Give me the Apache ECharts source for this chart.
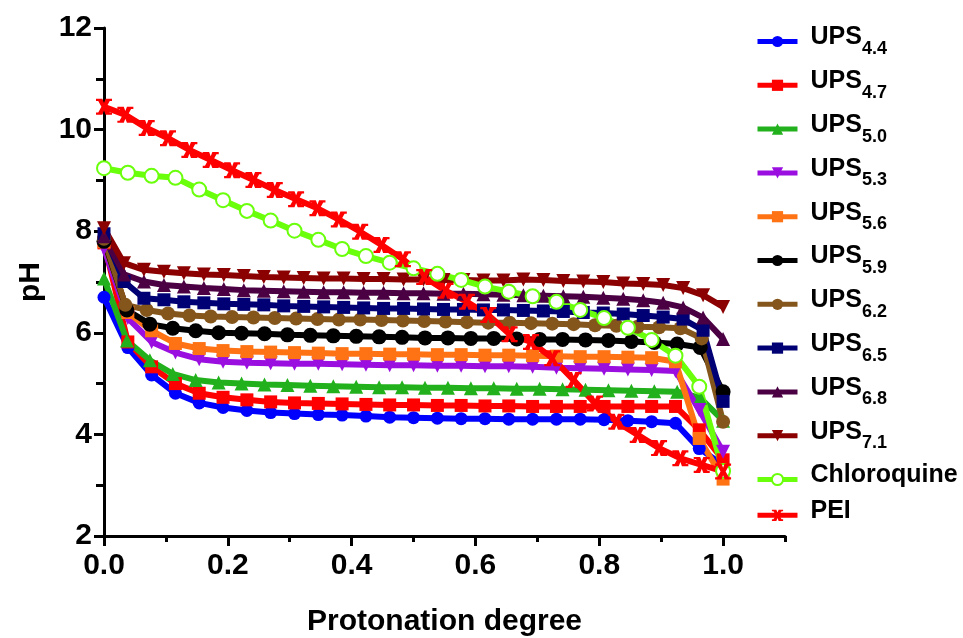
<!DOCTYPE html>
<html>
<head>
<meta charset="utf-8">
<script src="https://cdn.jsdelivr.net/npm/echarts@6/dist/echarts.min.js"></script>
<style>
  html, body { margin: 0; padding: 0; background: #fff; }
  #chart { width: 963px; height: 638px; }
</style>
</head>
<body>
<div id="chart"></div>
<script>
// x grids (protonation degree) - series were sampled at different steps
var x26 = [0, 0.0385, 0.0769, 0.1154, 0.1538, 0.1923, 0.2308, 0.2692, 0.3077, 0.3462, 0.3846, 0.4231, 0.4615, 0.5,
    0.5385, 0.5769, 0.6154, 0.6538, 0.6923, 0.7308, 0.7692, 0.8077, 0.8462, 0.8846, 0.9231, 0.9615, 1.0];
var x27 = [0, 0.037, 0.0741, 0.1111, 0.1481, 0.1852, 0.2222, 0.2593, 0.2963, 0.3333, 0.3704, 0.4074, 0.4444, 0.4815,
    0.5185, 0.5556, 0.5926, 0.6296, 0.6667, 0.7037, 0.7407, 0.7778, 0.8148, 0.8519, 0.8889, 0.9259, 0.963, 1.0];
var x29 = [0, 0.0345, 0.069, 0.1034, 0.1379, 0.1724, 0.2069, 0.2414, 0.2759, 0.3103, 0.3448, 0.3793, 0.4138, 0.4483,
    0.4828, 0.5172, 0.5517, 0.5862, 0.6207, 0.6552, 0.6897, 0.7241, 0.7586, 0.7931, 0.8276, 0.8621, 0.8966, 0.931,
    0.9655, 1.0];
var x31 = [0, 0.0323, 0.0645, 0.0968, 0.129, 0.1613, 0.1935, 0.2258, 0.2581, 0.2903, 0.3226, 0.3548, 0.3871, 0.4194,
    0.4516, 0.4839, 0.5161, 0.5484, 0.5806, 0.6129, 0.6452, 0.6774, 0.7097, 0.7419, 0.7742, 0.8065, 0.8387, 0.871,
    0.9032, 0.9355, 0.9677, 1.0];

// pH values
var ups44 = [6.70, 5.71, 5.17, 4.81, 4.62, 4.53, 4.47, 4.43, 4.41, 4.39, 4.38, 4.36, 4.34, 4.33, 4.32, 4.31, 4.31,
    4.30, 4.30, 4.30, 4.30, 4.29, 4.27, 4.25, 4.22, 3.72, 3.40];
var ups47 = [7.77, 5.82, 5.33, 5.00, 4.81, 4.73, 4.68, 4.64, 4.62, 4.61, 4.60, 4.59, 4.58, 4.58, 4.57, 4.57, 4.56,
    4.56, 4.55, 4.55, 4.55, 4.55, 4.55, 4.55, 4.55, 4.09, 3.50];
var ups50 = [7.07, 5.85, 5.46, 5.19, 5.07, 5.02, 5.00, 4.98, 4.97, 4.96, 4.95, 4.94, 4.93, 4.93, 4.92, 4.92, 4.91,
    4.91, 4.90, 4.90, 4.89, 4.88, 4.87, 4.86, 4.85, 4.84, 4.72, 4.27];
var ups53 = [7.66, 6.29, 5.82, 5.61, 5.48, 5.43, 5.41, 5.40, 5.39, 5.39, 5.38, 5.37, 5.36, 5.36, 5.35, 5.35, 5.34,
    5.34, 5.33, 5.31, 5.30, 5.29, 5.28, 5.27, 5.25, 4.48, 3.66];
var ups56 = [7.79, 6.40, 6.04, 5.79, 5.69, 5.65, 5.63, 5.62, 5.61, 5.60, 5.59, 5.59, 5.58, 5.58, 5.57, 5.57, 5.56,
    5.56, 5.55, 5.54, 5.53, 5.53, 5.52, 5.51, 5.43, 3.92, 3.12];
var ups59 = [7.80, 6.45, 6.17, 6.09, 6.04, 6.00, 5.99, 5.98, 5.96, 5.95, 5.94, 5.93, 5.92, 5.91, 5.90, 5.90, 5.89,
    5.89, 5.88, 5.87, 5.87, 5.86, 5.85, 5.83, 5.81, 5.78, 5.71, 4.84];
var ups62 = [7.85, 6.55, 6.45, 6.38, 6.34, 6.32, 6.31, 6.30, 6.29, 6.28, 6.27, 6.26, 6.26, 6.25, 6.24, 6.23, 6.22,
    6.21, 6.20, 6.20, 6.19, 6.18, 6.17, 6.15, 6.14, 6.12, 6.11, 6.09, 5.89, 4.25];
var ups65 = [7.95, 7.01, 6.68, 6.65, 6.61, 6.59, 6.57, 6.56, 6.55, 6.53, 6.52, 6.51, 6.50, 6.49, 6.48, 6.48, 6.47,
    6.46, 6.46, 6.45, 6.45, 6.44, 6.43, 6.42, 6.40, 6.39, 6.37, 6.34, 6.31, 6.27, 6.05, 4.65];
var ups68 = [7.90, 7.15, 7.01, 6.94, 6.91, 6.88, 6.86, 6.84, 6.83, 6.82, 6.81, 6.80, 6.80, 6.79, 6.79, 6.78, 6.78,
    6.77, 6.77, 6.76, 6.75, 6.74, 6.73, 6.72, 6.71, 6.69, 6.67, 6.64, 6.59, 6.50, 6.30, 5.88];
var ups71 = [8.06, 7.37, 7.24, 7.20, 7.17, 7.15, 7.14, 7.12, 7.10, 7.09, 7.08, 7.07, 7.07, 7.06, 7.06, 7.05, 7.05,
    7.04, 7.04, 7.03, 7.03, 7.05, 7.04, 7.02, 7.01, 7.00, 6.97, 6.96, 6.94, 6.88, 6.74, 6.51];
var chloroquine = [9.24, 9.15, 9.09, 9.05, 8.82, 8.61, 8.40, 8.21, 8.01, 7.83, 7.65, 7.51, 7.38, 7.27, 7.16, 7.04,
    6.91, 6.81, 6.72, 6.61, 6.45, 6.29, 6.10, 5.86, 5.55, 4.94, 3.28];
var pei = [10.45, 10.29, 10.03, 9.83, 9.60, 9.40, 9.20, 9.01, 8.81, 8.63, 8.45, 8.23, 7.99, 7.73, 7.45, 7.10, 6.83,
    6.61, 6.35, 5.97, 5.82, 5.50, 5.07, 4.61, 4.25, 3.99, 3.73, 3.53, 3.40, 3.27];

var xLabelTicks = [0, 0.2, 0.4, 0.6, 0.8, 1.0];

function pairs(xs, ys) {
    var out = [];
    for (var i = 0; i < ys.length; i++) out.push([xs[i], ys[i]]);
    return out;
}

var downTri = 'path://M0,0 L10,0 L5,9 Z';
// bold "X" with little serifs, like the PEI marker
var xMark = 'path://M0,0 L4,0 L5,2.6 L6,0 L10,0 L10,1.4 L8.6,1.4 L6.6,5 L8.6,8.6 L10,8.6 L10,10 L6,10 L5,7.4 L4,10 L0,10 ' +
    'L0,8.6 L1.4,8.6 L3.4,5 L1.4,1.4 L0,1.4 Z';

function line(name, color, symbol, size, xs, ys) {
    return {
        name: name,
        type: 'line',
        data: pairs(xs, ys),
        symbol: symbol,
        symbolSize: size,
        lineStyle: { color: color, width: 6 },
        itemStyle: { color: color },
        z: 2
    };
}

var chart = echarts.init(document.getElementById('chart'));

var series = [
    line('UPS4.4', '#0000ff', 'circle', 13, x26, ups44),
    line('UPS4.7', '#ff0000', 'rect', 13, x26, ups47),
    line('UPS5.0', '#22b11c', 'triangle', 14, x27, ups50),
    line('UPS5.3', '#9a0fe0', downTri, 14, x26, ups53),
    line('UPS5.6', '#ff7315', 'rect', 13, x26, ups56),
    line('UPS5.9', '#000000', 'circle', 15, x27, ups59),
    line('UPS6.2', '#85561c', 'circle', 14, x29, ups62),
    line('UPS6.5', '#000074', 'rect', 13, x31, ups65),
    line('UPS6.8', '#4a0042', 'triangle', 14, x31, ups68),
    line('UPS7.1', '#8b0000', downTri, 14, x31, ups71),
    line('Chloroquine', '#6aff0a', 'emptyCircle', 14, x26, chloroquine),
    line('PEI', '#ff0000', xMark, 16, x29, pei)
];
series[10].itemStyle.borderWidth = 3;

var axisFont = { fontFamily: 'Arial, "Liberation Sans", sans-serif', fontWeight: 'bold', color: '#000' };

option = {
    backgroundColor: '#fff',
    animation: false,
    grid: { left: 104, right: 178, top: 28, bottom: 102, outerBoundsMode: 'none', containLabel: false },
    legend: {
        orient: 'vertical',
        left: 750,
        top: 20,
        itemWidth: 40,
        itemHeight: 14,
        itemGap: 10.8,
        lineStyle: { width: 5 },
        data: series.map(function (s) { return s.name; }),
        formatter: function (name) {
            if (name.indexOf('UPS') === 0) return '{a|UPS}{b|' + name.slice(3) + '}';
            return '{a|' + name + '}';
        },
        textStyle: {
            rich: {
                a: { fontFamily: 'Arial', fontWeight: 'bold', fontSize: 25, color: '#000',
                    verticalAlign: 'bottom', padding: [0, 0, 8, 8] },
                b: { fontFamily: 'Arial', fontWeight: 'bold', fontSize: 18, color: '#000',
                    verticalAlign: 'bottom' }
            }
        }
    },
    xAxis: [
        {
            type: 'value', min: 0, max: 1.1, interval: 0.1,
            name: 'Protonation degree', nameLocation: 'middle', nameGap: 71,
            nameTextStyle: Object.assign({ fontSize: 30 }, axisFont),
            axisLine: { lineStyle: { color: '#000', width: 3 } },
            axisTick: { length: 6, lineStyle: { color: '#000', width: 3 } },
            axisLabel: Object.assign({ fontSize: 30, margin: 15, customValues: xLabelTicks,
                formatter: function (v) { return v.toFixed(1); } }, axisFont),
            splitLine: { show: false }
        },
        {
            type: 'value', min: 0, max: 1.1, position: 'bottom',
            axisLine: { show: false },
            axisTick: { length: 10, customValues: xLabelTicks, lineStyle: { color: '#000', width: 3 } },
            axisLabel: { show: false },
            splitLine: { show: false }
        }
    ],
    yAxis: {
        type: 'value', min: 2, max: 12, interval: 2,
        name: 'pH', nameLocation: 'middle', nameGap: 58, nameRotate: 90,
        nameTextStyle: Object.assign({ fontSize: 30 }, axisFont),
        axisLine: { lineStyle: { color: '#000', width: 3 } },
        axisTick: { length: 10, lineStyle: { color: '#000', width: 3 } },
        minorTick: { show: true, splitNumber: 2, length: 8, lineStyle: { color: '#000', width: 3 } },
        axisLabel: Object.assign({ fontSize: 30, margin: 12 }, axisFont),
        splitLine: { show: false },
        minorSplitLine: { show: false }
    },
    series: series
};

chart.setOption(option);
</script>
</body>
</html>
